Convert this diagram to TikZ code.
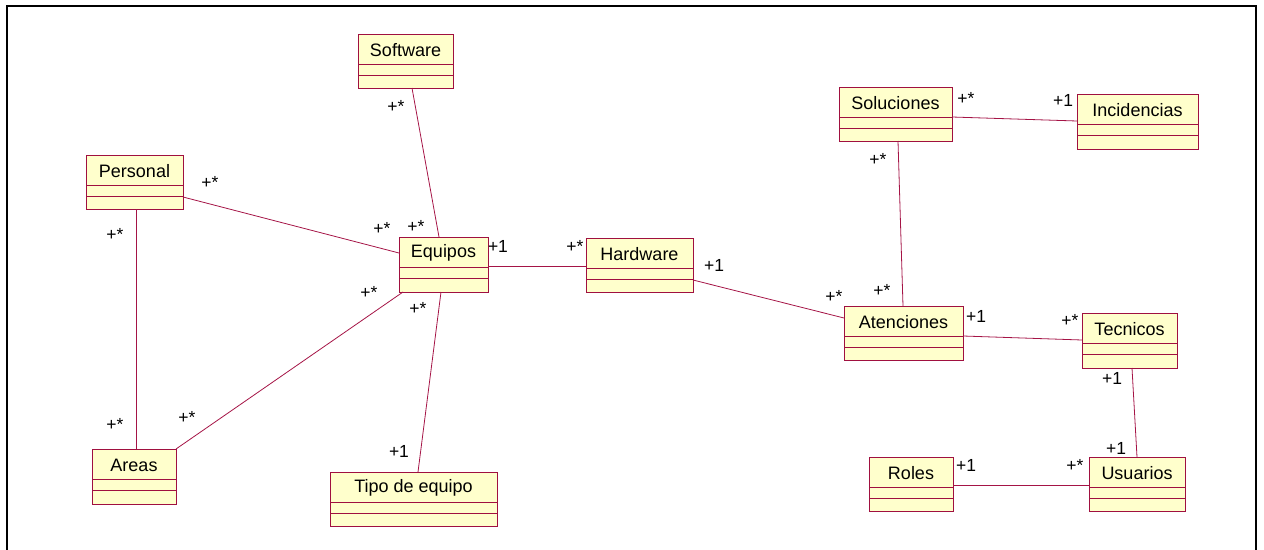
\documentclass[tikz,border=0pt]{standalone}
\usepackage{fontspec}
\setmainfont{Liberation Sans}
\usetikzlibrary{calc}
\definecolor{classfill}{RGB}{255,255,204}
\definecolor{classedge}{RGB}{160,16,64}
\definecolor{assocline}{RGB}{165,20,70}
\tikzset{
  classbox/.style={draw=classedge, fill=classfill, line width=1pt,
    rectangle, inner sep=0pt, outer sep=0pt},
  classline/.style={draw=classedge, line width=1pt},
  titletext/.style={font=\fontsize{18}{21}\selectfont, inner sep=0pt, anchor=center},
  assoc/.style={draw=assocline, line width=0.8pt},
  mult/.style={font=\fontsize{17.5}{20}\selectfont, inner sep=0pt, anchor=center},
}
% UML class: name, x1, y1, x2, y2, title
\newcommand\umlclass[6]{%
  \node[classbox, minimum width={#4-#2}, minimum height={#5-#3}]
    (#1) at ({(#2+#4)/2},{(#3+#5)/2}) {};
  \draw[classline] ([yshift=-30pt]#1.north west) -- ([yshift=-30pt]#1.north east);
  \draw[classline] ([yshift=-41pt]#1.north west) -- ([yshift=-41pt]#1.north east);
  \node[titletext] at ([yshift=-16pt]#1.north) {#6};
}
\begin{document}
\begin{tikzpicture}[x=1pt, y=-1pt]
\useasboundingbox (0,0) rectangle (1264,549);
\begin{scope}
\clip (0,0) rectangle (1264,549);
\draw[line width=2pt, black] (7,570) -- (7,6) -- (1256,6) -- (1256,570);
\end{scope}

% classes
\umlclass{software}{358}{34}{453}{88}{Software}
\umlclass{personal}{86}{155}{183}{209}{Personal}
\umlclass{equipos}{399}{237}{488}{292}{Equipos}
\umlclass{hardware}{586}{238}{693}{292}{Hardware}
\umlclass{areas}{92}{449}{176}{504}{Areas}
\umlclass{tipo}{330}{472}{497}{526}{Tipo de equipo}
\umlclass{soluciones}{839}{87}{952}{141}{Soluciones}
\umlclass{incidencias}{1077}{94}{1198}{149}{Incidencias}
\umlclass{atenciones}{844}{306}{963}{360}{Atenciones}
\umlclass{tecnicos}{1082}{313}{1177}{368}{Tecnicos}
\umlclass{roles}{869}{457}{953}{511}{Roles}
\umlclass{usuarios}{1089}{457}{1185}{511}{Usuarios}

% associations
\draw[assoc] ([xshift=54pt]software.south west) -- ([xshift=40pt]equipos.north west);
\draw[assoc] ([yshift=12pt]personal.south east) -- ([yshift=-16pt]equipos.north west);
\draw[assoc] ([xshift=50pt]personal.south west) -- ([xshift=44pt]areas.north west);
\draw[assoc] (areas.north east) -- ([xshift=4pt]equipos.south west);
\draw[assoc] ([xshift=42pt]equipos.south west) -- ([xshift=88pt]tipo.north west);
\draw[assoc] ([yshift=-29pt]equipos.north east) -- ([yshift=-28pt]hardware.north west);
\draw[assoc] ([yshift=12pt]hardware.south east) -- ([yshift=-12pt]atenciones.north west);
\draw[assoc] ([xshift=59pt]soluciones.south west) -- ([xshift=59pt]atenciones.north west);
\draw[assoc] ([yshift=-30pt]soluciones.north east) -- ([yshift=-27pt]incidencias.north west);
\draw[assoc] ([yshift=-30pt]atenciones.north east) -- ([yshift=-27pt]tecnicos.north west);
\draw[assoc] ([xshift=50pt]tecnicos.south west) -- ([xshift=48pt]usuarios.north west);
\draw[assoc] ([yshift=-28pt]roles.north east) -- ([yshift=-28pt]usuarios.north west);

% multiplicities
\node[mult] (m1) at (396,106) {+*};
\node[mult] (m2) at (210,182) {+*};
\node[mult] (m3) at (115,234) {+*};
\node[mult] (m4) at (382,228) {+*};
\node[mult] (m5) at (416,226) {+*};
\node[mult] (m6) at (369,292) {+*};
\node[mult] (m7) at (418,308) {+*};
\node[mult] (m8) at (498,246) {+1};
\node[mult] (m9) at (575,246) {+*};
\node[mult] (m10) at (714,265) {+1};
\node[mult] (m11) at (115,424) {+*};
\node[mult] (m12) at (187,417) {+*};
\node[mult] (m13) at (399,451) {+1};
\node[mult] (m14) at (966,98) {+*};
\node[mult] (m15) at (1063,100) {+1};
\node[mult] (m16) at (878,159) {+*};
\node[mult] (m17) at (834,296) {+*};
\node[mult] (m18) at (882,290) {+*};
\node[mult] (m19) at (976,316) {+1};
\node[mult] (m20) at (1070,320) {+*};
\node[mult] (m21) at (1112,378) {+1};
\node[mult] (m22) at (1116,448) {+1};
\node[mult] (m23) at (966,465) {+1};
\node[mult] (m24) at (1075,465) {+*};
\end{tikzpicture}
\end{document}
